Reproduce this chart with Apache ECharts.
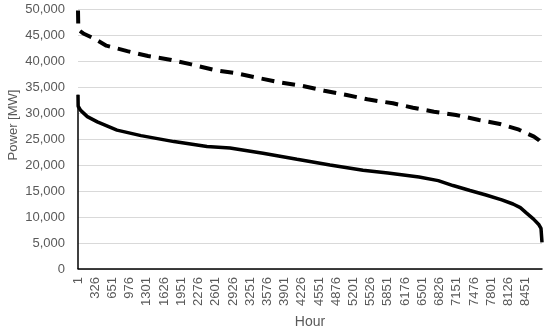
<!DOCTYPE html>
<html>
<head>
<meta charset="utf-8">
<script src="https://cdn.jsdelivr.net/npm/echarts@6/dist/echarts.min.js"></script>
<style>html,body{margin:0;padding:0;background:#fff}#c{width:550px;height:332px}</style>
</head>
<body>
<div id="c"></div>
<script>
// Hours of the year (category axis), labelled every 325 hours
const hours = Array.from({length: 8760}, (_, i) => String(i + 1));
const labelStep = 325;

// Dashed curve: read points (hour, MW)
const dashedHour = [1, 6, 21, 101, 301, 536, 932, 1322, 1738, 2140, 2581, 2996, 3405, 3814, 4242, 4650, 5073, 5462, 5947, 6325, 6721, 7136, 7571, 7967, 8326, 8609, 8701, 8760];
const dashedMW   = [49700, 46800, 45900, 45300, 44350, 42950, 41900, 40950, 40250, 39350, 38250, 37630, 36730, 35900, 35190, 34290, 33460, 32630, 31860, 31020, 30250, 29620, 28650, 27880, 26790, 25450, 24800, 24200];

// Solid curve: read points (hour, MW)
const solidHour = [1, 4, 51, 177, 366, 737, 1190, 1813, 2436, 2870, 3493, 4135, 4758, 5381, 5851, 6438, 6801, 7080, 7401, 7703, 8001, 8213, 8351, 8458, 8601, 8703, 8741, 8760];
const solidMW   = [33500, 31300, 30500, 29300, 28300, 26700, 25650, 24500, 23550, 23250, 22250, 21100, 20000, 19000, 18450, 17700, 17000, 16050, 15100, 14230, 13300, 12500, 11800, 10850, 9600, 8500, 7800, 5100];

const yTitle = 'Power [MW]';
const xTitle = 'Hour';

const chart = echarts.init(document.getElementById('c'), null, {renderer: 'canvas'});
const font = 'Liberation Sans, Arial, sans-serif';
chart.setOption({
  animation: false,
  backgroundColor: '#fff',
  grid: {left: 78, right: 8, top: 9, bottom: 63, containLabel: false, outerBoundsMode: 'none'},
  xAxis: {
    type: 'category',
    data: hours,
    boundaryGap: false,
    name: xTitle,
    nameLocation: 'middle',
    nameGap: 46,
    nameTextStyle: {color: '#595959', fontSize: 14, fontFamily: font},
    axisLine: {show: true, lineStyle: {color: '#000', width: 1.5}},
    axisTick: {show: false},
    axisLabel: {
      interval: labelStep - 1,
      rotate: 90,
      margin: 8,
      color: '#595959',
      fontSize: 13,
      fontFamily: font
    },
    splitLine: {show: false}
  },
  yAxis: {
    type: 'value',
    min: 0,
    max: 50000,
    interval: 5000,
    axisLine: {show: false},
    axisTick: {show: false},
    axisLabel: {
      margin: 13,
      color: '#595959',
      fontSize: 13,
      fontFamily: font,
      formatter: v => v.toLocaleString('en-US')
    },
    splitLine: {lineStyle: {color: '#d9d9d9', width: 1}}
  },
  graphic: [{
    type: 'text',
    x: 13,
    y: 125,
    rotation: Math.PI / 2,
    style: {
      text: yTitle,
      fill: '#595959',
      font: '13px ' + font,
      align: 'center',
      verticalAlign: 'middle'
    }
  }],
  series: [
    {
      type: 'line',
      name: 'dashed',
      showSymbol: false,
      symbol: 'none',
      data: dashedHour.map((h, i) => [String(h), dashedMW[i]]),
      lineStyle: {color: '#000', width: 4, type: [13, 8], cap: 'butt'}
    },
    {
      type: 'line',
      name: 'solid',
      showSymbol: false,
      symbol: 'none',
      data: solidHour.map((h, i) => [String(h), solidMW[i]]),
      lineStyle: {color: '#000', width: 3.5},
      markLine: {
        silent: true,
        symbol: 'none',
        label: {show: false},
        lineStyle: {color: '#000', width: 1.5, type: 'solid'},
        data: [[{coord: [String(solidHour[0]), 0]}, {coord: [String(solidHour[0]), solidMW[0]]}]]
      }
    }
  ]
});
</script>
</body>
</html>
